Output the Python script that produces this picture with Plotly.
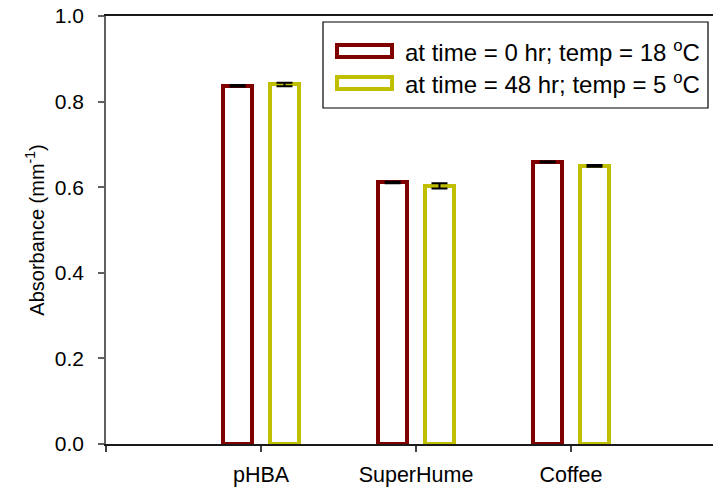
import plotly.graph_objects as go

# Absorbance of the three samples before and after cold storage
categories = ["pHBA", "SuperHume", "Coffee"]
cat_pos = [0, 1, 2]
absorb_t0 = [0.837, 0.611, 0.659]
err_t0 = [0.002, 0.002, 0.001]
absorb_t48 = [0.840, 0.603, 0.650]
err_t48 = [0.004, 0.006, 0.002]
series_names = ["at time = 0 hr; temp = 18 <sup>o</sup>C",
                "at time = 48 hr; temp = 5 <sup>o</sup>C"]
y_ticks = [0.0, 0.2, 0.4, 0.6, 0.8, 1.0]

RED = "#800000"
YEL = "#BFBF00"
FONT = "Liberation Sans, Arial, sans-serif"

W, H = 713, 489
ML, MR, MT, MB = 106, 0, 16, 45
plot_w = W - ML - MR
px_per_cat = 155
x_range = [-1, -1 + plot_w / px_per_cat]

fig = go.Figure()
for vals, errs, col, off in [(absorb_t0, err_t0, RED, -0.242),
                             (absorb_t48, err_t48, YEL, 0.06)]:
    fig.add_trace(go.Bar(
        x=cat_pos, y=vals, offset=off, width=0.183,
        marker=dict(color="white", line=dict(color=col, width=4)),
        error_y=dict(type="data", array=errs, visible=True,
                     color="black", thickness=2, width=8),
        showlegend=False,
    ))

# Legend drawn as outlined swatches with labels
def px_x(p):
    return (p - ML) / plot_w

def px_y(p):
    return (H - MB - p) / (H - MT - MB)

shapes = [dict(type="rect", xref="paper", yref="paper",
               x0=px_x(323), x1=px_x(708), y0=px_y(108), y1=px_y(22),
               line=dict(color="black", width=1.2), fillcolor="white",
               layer="above")]
annotations = []
for i, (name, col) in enumerate(zip(series_names, [RED, YEL])):
    cy = 51 + i * 32
    shapes.append(dict(type="rect", xref="paper", yref="paper",
                       x0=px_x(337), x1=px_x(392),
                       y0=px_y(cy + 6), y1=px_y(cy - 6),
                       line=dict(color=col, width=4), fillcolor="white",
                       layer="above"))
    annotations.append(dict(xref="paper", yref="paper", x=px_x(403), y=px_y(cy),
                            xanchor="left", yanchor="middle", showarrow=False,
                            text=name, font=dict(family=FONT, size=24, color="black")))

fig.update_layout(
    width=W, height=H,
    margin=dict(l=ML, r=MR, t=MT, b=MB, pad=0),
    paper_bgcolor="white", plot_bgcolor="white",
    font=dict(family=FONT, size=20, color="black"),
    shapes=shapes, annotations=annotations,
    bargap=0,
    xaxis=dict(range=x_range, tickmode="array", tickvals=[-1] + cat_pos,
               ticktext=[""] + categories, showgrid=False, zeroline=False,
               showline=True, linecolor="#1a1a1a", linewidth=2, mirror=True,
               ticks="outside", ticklen=6, tickcolor="#404040", tickwidth=1.5,
               ticklabelstandoff=4, tickfont=dict(size=21.5)),
    yaxis=dict(range=[0, 1], tickmode="array", tickvals=y_ticks,
               ticktext=[f"{v:.1f}" for v in y_ticks],
               showgrid=False, zeroline=False, showline=True,
               linecolor="#606060", linewidth=1.5,
               ticks="outside", ticklen=6, tickcolor="#606060", tickwidth=1.5,
               ticklabelstandoff=10, tickfont=dict(size=21),
               title=dict(text="Absorbance (mm<sup>-1</sup>)",
                          font=dict(size=20), standoff=5)),
)

fig.write_html("out.html")
